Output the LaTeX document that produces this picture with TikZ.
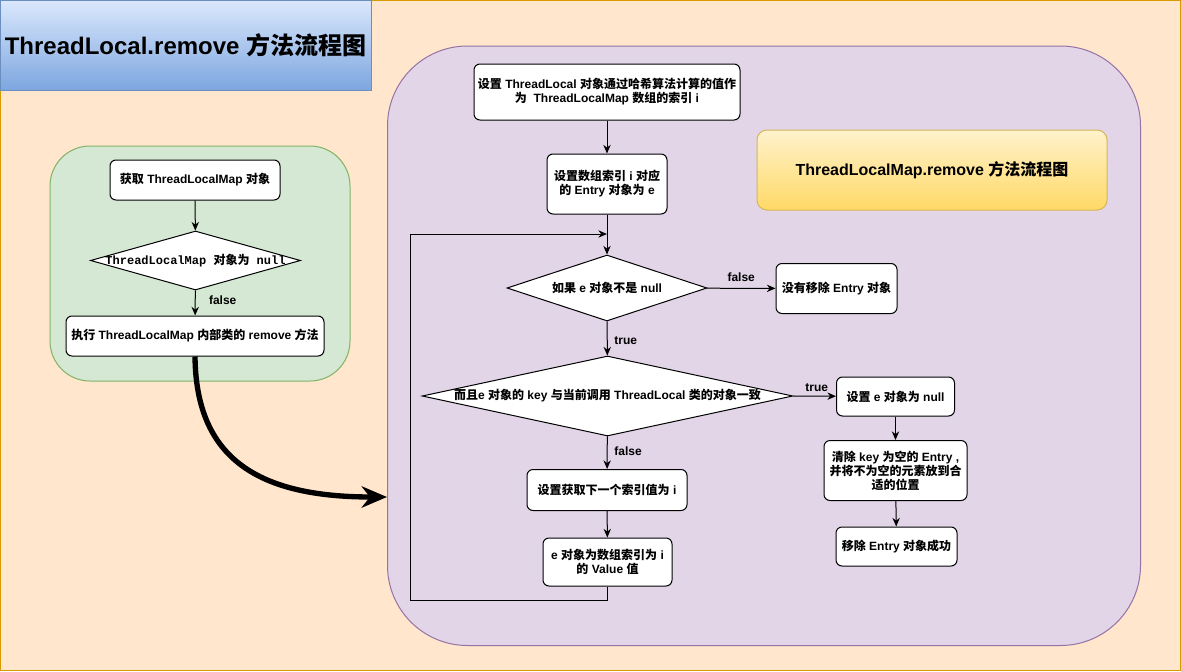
\documentclass[tikz,border=0pt]{standalone}
\usepackage{fontspec}
\setmainfont{Liberation Sans}
\setmonofont{Liberation Mono}
\newfontfamily\zhfont{Noto Sans CJK SC}
\newcommand\zh[1]{{\zhfont #1}}
\usepackage{tikz}
\usetikzlibrary{arrows.meta, shapes.geometric, positioning}
\definecolor{pagebg}{HTML}{FFE6CC}\definecolor{pageln}{HTML}{D79B00}
\definecolor{greenbg}{HTML}{D5E8D4}\definecolor{greenln}{HTML}{82B366}
\definecolor{purplebg}{HTML}{E1D5E7}\definecolor{purpleln}{HTML}{9673A6}
\definecolor{bluetop}{HTML}{DAE8FC}\definecolor{bluebot}{HTML}{7EA6E0}\definecolor{blueln}{HTML}{6C8EBF}
\definecolor{yeltop}{HTML}{FFF2CC}\definecolor{yelbot}{HTML}{FFD966}\definecolor{yelln}{HTML}{D6B656}
\tikzset{
  box/.style={draw, fill=white, rounded corners=4.5pt, align=center, inner sep=2pt, font=\bfseries\fontsize{9}{10.5}\selectfont},
  decide/.style={draw, fill=white, diamond, inner sep=0pt},
  dtext/.style={font=\bfseries\fontsize{9}{10.5}\selectfont, inner sep=0pt},
  lbl/.style={font=\bfseries\fontsize{9}{10.5}\selectfont, inner sep=2pt},
}

\begin{document}
\begin{tikzpicture}[x=0.75pt, y=-0.75pt, line width=0.75pt, >={Stealth[length=6.5pt,width=5.5pt]}]
		\useasboundingbox (0,0) rectangle (1181,671);
		\draw[draw=pageln, fill=pagebg] (0.5,0.5) rectangle (1180.5,670.5);
		\draw[draw=greenln, fill=greenbg, rounded corners=30pt] (50,146) rectangle (350,381);
		\draw[draw=purpleln, fill=purplebg, rounded corners=60pt] (387.5,46) rectangle (1140.5,645.5);
		\coordinate (mapin) at (387,497);
		\node[draw=blueln, top color=bluetop, bottom color=bluebot, minimum width=278.25pt, minimum height=67.5pt, font=\bfseries\fontsize{18}{20}\selectfont] (title) at (185.5,45) {ThreadLocal.remove \zh{方法流程图}};

		% ThreadLocal.remove
		\node[box, minimum width=127.5pt, minimum height=30pt] (getmap) at (195,180) {\zh{获取} ThreadLocalMap \zh{对象}};
		\node[decide, minimum width=157.5pt, minimum height=44.25pt, label={[dtext]center:{\ttfamily ThreadLocalMap \zh{对象为} null}}] (isnull) at (195.5,260.5) {};
		\node[box, minimum width=193.5pt, minimum height=30pt] (callrm) at (195,336) {\zh{执行} ThreadLocalMap \zh{内部类的} remove \zh{方法}};
		\draw[->] (getmap) -- (isnull); \draw[->] (isnull) -- node[lbl, right=8pt, pos=0.4]{false} (callrm);
		\draw[line width=4pt, -{Stealth[length=19pt,width=16pt]}] (callrm.south) .. controls (196,460) and (260,497) .. (mapin);

		% ThreadLocalMap.remove
		\node[draw=yelln, top color=yeltop, bottom color=yelbot, rounded corners=7.5pt, minimum width=262.5pt, minimum height=60pt, font=\bfseries\fontsize{12}{14}\selectfont] (maptitle) at (932,170) {ThreadLocalMap.remove \zh{方法流程图}};
		\node[box, minimum width=199.5pt, minimum height=42pt] (hash) at (607,92) {\zh{设置} ThreadLocal \zh{对象通过哈希算法计算的值作}\\\zh{为}\ \ ThreadLocalMap \zh{数组的索引} i};
		\node[box, minimum width=90pt, minimum height=45pt] (sete) at (607,184) {\zh{设置数组索引} i \zh{对应}\\\zh{的} Entry \zh{对象为} e};
		\node[decide, minimum width=150pt, minimum height=49.5pt, label={[dtext]center:{\zh{如果} e \zh{对象不是} null}}] (notnull) at (607,288) {};
		\node[box, minimum width=90.75pt, minimum height=37.5pt] (nothing) at (836.5,288.5) {\zh{没有移除} Entry \zh{对象}};
		\node[decide, minimum width=278pt, minimum height=60pt, label={[dtext]center:{\zh{而且}e \zh{对象的} key \zh{与当前调用} ThreadLocal \zh{类的对象一致}}}] (samekey) at (607.5,396) {};
		\node[box, minimum width=88.5pt, minimum height=29.25pt] (setnull) at (895.5,396.5) {\zh{设置} e \zh{对象为} null};
		\node[box, minimum width=107.25pt, minimum height=45pt] (clean) at (895.5,470.5) {\zh{清除} key \zh{为空的} Entry ,\\\zh{并将不为空的元素放到合}\\\zh{适的位置}};
		\node[box, minimum width=90.75pt, minimum height=29.25pt] (done) at (896.5,546.5) {\zh{移除} Entry \zh{对象成功}};
		\node[box, minimum width=120pt, minimum height=30.75pt] (nexti) at (607,490) {\zh{设置获取下一个索引值为} i};
		\node[box, minimum width=96.75pt, minimum height=36pt] (nexte) at (607.5,562) {e \zh{对象为数组索引为} i\\\zh{的} Value \zh{值}};
		\coordinate (join) at (607,234); \coordinate (loopbl) at (410.5,600);

		\draw[->] (hash) -- (sete); \draw[->] (sete) -- (notnull);
		\draw[->] (notnull) -- node[lbl, above=3pt]{false} (nothing);
		\draw[->] (notnull) -- node[lbl, right=3pt, pos=0.55]{true} (samekey);
		\draw[->] (samekey.east) -- node[lbl, above=1pt, pos=0.55]{true} (setnull);
		\draw[->] (setnull) -- (clean); \draw[->] (clean) -- (done);
		\draw[->] (samekey) -- node[lbl, right=3pt, pos=0.45]{false} (nexti);
		\draw[->] (nexti) -- (nexte);
		\draw[->] (nexte.south) |- (loopbl) |- (join);
	\end{tikzpicture}
\end{document}
